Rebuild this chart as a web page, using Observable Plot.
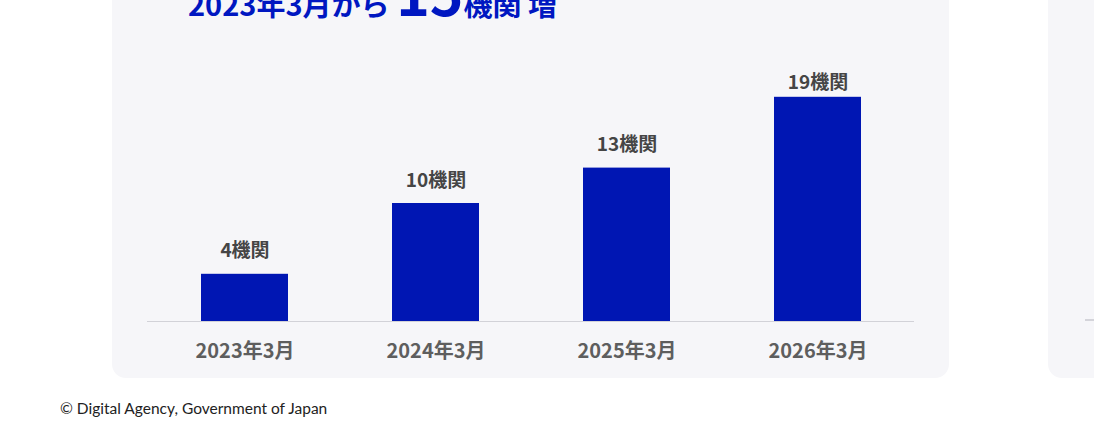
<!DOCTYPE html>
<html>
<head>
<meta charset="utf-8">
<script src="https://cdn.jsdelivr.net/npm/d3@7"></script>
<script src="https://cdn.jsdelivr.net/npm/@observablehq/plot@0.6"></script>
<style>
  html, body { margin: 0; padding: 0; background: #ffffff; }
  body { width: 1094px; height: 436px; position: relative; overflow: hidden; font-family: "Noto Sans CJK JP", sans-serif; }
  .panel { position: absolute; background: #f6f6f9; border-radius: 14px; }
  #main { left: 112px; top: -60px; width: 837px; height: 438px; }
  #side { left: 1048px; top: -60px; width: 120px; height: 438px; }
  #sideRule { position: absolute; left: 1085px; top: 319px; width: 20px; height: 2px; background: #d4d4da; }
  #title { position: absolute; left: 0; top: 0; }
  #chart { position: absolute; left: 112px; top: 40px; }
  #caption { position: absolute; left: 60px; top: 399px; font-family: Lato, "Liberation Sans", sans-serif; font-size: 15.5px; color: #222; }
</style>
</head>
<body>
<div class="panel" id="main"></div>
<div class="panel" id="side"></div>
<div id="sideRule"></div>
<svg id="title" width="1094" height="40"></svg>
<div id="chart"></div>
<div id="caption"></div>
<script>
// ---- data ----
const periods = ["2023年3月", "2024年3月", "2025年3月", "2026年3月"];
const counts = [4, 10, 13, 19];
const unit = "機関";
const titlePre = "2023年3月から ";
const titleNum = "15";
const titlePost = "機関 増";
const captionText = "© Digital Agency, Government of Japan";

const data = periods.map((p, i) => ({period: p, count: counts[i], label: counts[i] + unit}));
const last = data.slice(-1);
const rest = data.slice(0, -1);

// ---- title ----
const t = d3.select("#title").append("text")
  .attr("x", 188).attr("y", 16)
  .attr("fill", "#0017c1")
  .attr("font-family", "Noto Sans CJK JP")
  .attr("font-weight", 700)
  .attr("font-size", 29);
t.append("tspan").text(titlePre);
t.append("tspan").attr("font-size", 57).text(titleNum);
t.append("tspan").text(titlePost);

document.getElementById("caption").textContent = captionText;

// ---- chart ----
const labelFont = {fontFamily: "Noto Sans CJK JP", fontWeight: 700};
const chart = Plot.plot({
  width: 836,
  height: 338,
  marginLeft: 35,
  marginRight: 34,
  marginTop: 45,
  marginBottom: 57,
  style: {background: "transparent", overflow: "visible", fontFamily: "Noto Sans CJK JP"},
  x: {domain: periods, paddingInner: 0.545, paddingOuter: 0.277, label: null},
  y: {domain: [0, 20], axis: null},
  marks: [
    Plot.barY(data, {x: "period", y: "count", fill: "#0016b3"}),
    Plot.ruleY([0], {stroke: "#d2d2d8", strokeWidth: 1}),
    Plot.text(rest, {x: "period", y: "count", text: "label", dy: -23, fontSize: 19, fill: "#454545", ...labelFont}),
    Plot.text(last, {x: "period", y: "count", text: "label", dy: -14, fontSize: 19, fill: "#454545", ...labelFont}),
    Plot.axisX({tickSize: 0, tickPadding: 22, fontSize: 20, fontWeight: 700, fill: "#5e5e5e", label: null})
  ]
});
document.getElementById("chart").appendChild(chart);
</script>
</body>
</html>
